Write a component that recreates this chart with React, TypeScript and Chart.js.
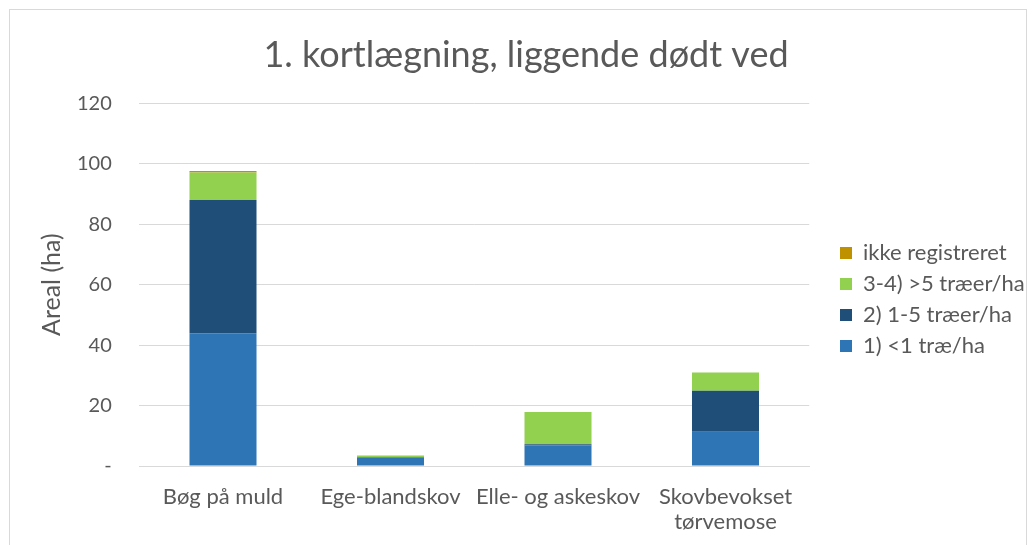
import React, { useEffect, useRef } from "react";
import { Chart, registerables } from "chart.js";

Chart.register(...registerables);

const categories: (string | string[])[] = [
  "Bøg på muld",
  "Ege-blandskov",
  "Elle- og askeskov",
  ["Skovbevokset", "tørvemose"],
];
const under1: number[] = [43.9, 2.9, 6.8, 11.3];
const from1to5: number[] = [44.1, 0, 0.4, 13.6];
const over5: number[] = [9.1, 0.6, 10.7, 6.0];
const notRegistered: number[] = [0.5, 0, 0, 0];
const seriesNames: string[] = [
  "1) <1 træ/ha",
  "2) 1-5 træer/ha",
  "3-4) >5 træer/ha",
  "ikke registreret",
];
const yTicks: number[] = [0, 20, 40, 60, 80, 100, 120];

const FONT = "Lato, 'Open Sans', sans-serif";
const GREY = "#595959";

const LEGEND_SHIFT_X = 21.75;
const LEGEND_SHIFT_Y = 27;
const TITLE_SHIFT_X = 9;

const layoutTweaks = {
  id: "layoutTweaks",
  beforeLayout(chart: any) {
    const lg = chart.legend;
    if (lg && !lg.__patched) {
      const orig = lg.fit.bind(lg);
      lg.fit = function () {
        orig();
        this.width = 1034 - 809.25;
      };
      lg.__patched = true;
    }
  },
  afterLayout(chart: any) {
    const lg = chart.legend;
    if (lg) {
      lg.left += LEGEND_SHIFT_X;
      lg.right += LEGEND_SHIFT_X;
      lg.top += LEGEND_SHIFT_Y;
      lg.bottom += LEGEND_SHIFT_Y;
    }
    const tb = chart.titleBlock;
    if (tb) {
      tb.left += TITLE_SHIFT_X;
      tb.right += TITLE_SHIFT_X;
    }
  },
};

export default function App() {
  const ref = useRef<HTMLCanvasElement | null>(null);
  useEffect(() => {
    document.body.style.margin = "0";
    if (!ref.current) return;
    const chart = new Chart(ref.current, {
      type: "bar",
      data: {
        labels: categories as any,
        datasets: [
          { label: seriesNames[0], data: under1, backgroundColor: "#2E75B6" },
          { label: seriesNames[1], data: from1to5, backgroundColor: "#1F4E79" },
          { label: seriesNames[2], data: over5, backgroundColor: "#92D050" },
          { label: seriesNames[3], data: notRegistered, backgroundColor: "#BF9000" },
        ],
      },
      plugins: [layoutTweaks],
      options: {
        animation: false,
        responsive: false,
        maintainAspectRatio: false,
        layout: { padding: 0 },
        datasets: { bar: { categoryPercentage: 0.8, barPercentage: 0.5 } },
        plugins: {
          title: {
            display: true,
            text: "1. kortlægning, liggende dødt ved",
            color: GREY,
            font: { family: FONT, size: 36, weight: "normal", lineHeight: 1.2 },
            padding: { top: 33.4, bottom: 26.7 },
          },
          legend: {
            position: "right",
            reverse: true,
            labels: {
              color: GREY,
              font: { family: FONT, size: 22 },
              boxWidth: 12,
              boxHeight: 12,
              padding: 9,
            },
          },
          tooltip: { enabled: false },
        },
        scales: {
          x: {
            stacked: true,
            grid: { display: false, drawTicks: false },
            border: { color: "#d9d9d9" },
            ticks: {
              color: GREY,
              font: { family: FONT, size: 22, lineHeight: 1.15 },
              padding: 18,
              maxRotation: 0,
              autoSkip: false,
            },
            afterFit: (axis: any) => {
              axis.height = 545 - 466;
            },
          },
          y: {
            stacked: true,
            min: 0,
            max: 120,
            afterBuildTicks: (axis: any) => {
              axis.ticks = yTicks.map((v) => ({ value: v }));
            },
            afterFit: (axis: any) => {
              axis.width = 139.25;
            },
            grid: { color: "#d9d9d9", drawTicks: false },
            border: { display: false },
            ticks: {
              color: GREY,
              font: { family: FONT, size: 20 },
              padding: 27.5,
              callback: (v: any) => (Number(v) === 0 ? "-" : String(v)),
            },
            title: {
              display: true,
              text: "Areal (ha)",
              color: GREY,
              font: { family: FONT, size: 25, lineHeight: 1.2 },
              padding: { top: 36.7, bottom: 0 },
            },
          },
        },
      },
    });
    return () => chart.destroy();
  }, []);
  return (
    <div style={{ position: "relative", width: 1034, height: 545 }}>
      <canvas ref={ref} width={1034} height={545} style={{ display: "block" }} />
      <div
        style={{
          position: "absolute",
          left: 9,
          top: 9,
          width: 1016,
          height: 540,
          border: "1px solid #d9d9d9",
          pointerEvents: "none",
        }}
      />
    </div>
  );
}
